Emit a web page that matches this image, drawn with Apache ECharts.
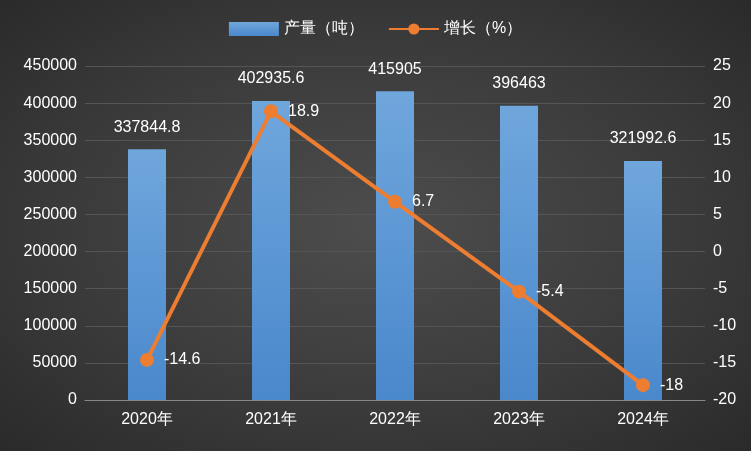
<!DOCTYPE html>
<html><head><meta charset="utf-8">
<script src="https://cdn.jsdelivr.net/npm/echarts@6/dist/echarts.min.js"></script>
<style>html,body{margin:0;padding:0;}#c{width:751px;height:451px;background:radial-gradient(ellipse at center,#4d4d4d 0%,#3a3a3a 60%,#2a2a2a 100%);}</style>
</head><body><div id="c"></div>
<script>
const categories=['2020年','2021年','2022年','2023年','2024年'];
const production=[337844.8,402935.6,415905,396463,321992.6];
const growth=[-14.6,18.9,6.7,-5.4,-18];
const chart=echarts.init(document.getElementById('c'));
const txt={color:'#ffffff',fontSize:16,fontFamily:'Liberation Sans'};
chart.setOption({
 textStyle:{fontFamily:'Liberation Sans'},
 legend:{top:16,left:'center',itemGap:24,textStyle:{color:'#ffffff',fontSize:16},
  data:[{name:'产量（吨）',icon:'rect'},{name:'增长（%）'}],itemWidth:50,itemHeight:14},
 grid:{left:85,right:46,top:66,bottom:51},
 xAxis:{type:'category',data:categories,axisLine:{lineStyle:{color:'#888'}},axisTick:{show:false},axisLabel:{color:'#fff',fontSize:16,margin:12}},
 yAxis:[{type:'value',min:0,max:450000,interval:50000,axisLabel:{color:'#fff',fontSize:16,formatter:v=>String(v)},splitLine:{lineStyle:{color:'#555'}},axisLine:{show:false}},
  {type:'value',min:-20,max:25,interval:5,axisLabel:{color:'#fff',fontSize:16},splitLine:{show:false},axisLine:{show:false}}],
 series:[{name:'产量（吨）',type:'bar',data:production,barWidth:38,
   itemStyle:{color:new echarts.graphic.LinearGradient(0,0,0,1,[{offset:0,color:'#6fa6dc'},{offset:1,color:'#4a88cc'}])},
   label:{show:true,position:'top',distance:14,...txt}},
  {name:'增长（%）',type:'line',yAxisIndex:1,data:growth,symbol:'circle',symbolSize:14,
   lineStyle:{color:'#ed7d31',width:4},itemStyle:{color:'#ed7d31'},
   label:{show:true,position:'right',distance:10,...txt}}]
});
</script></body></html>
